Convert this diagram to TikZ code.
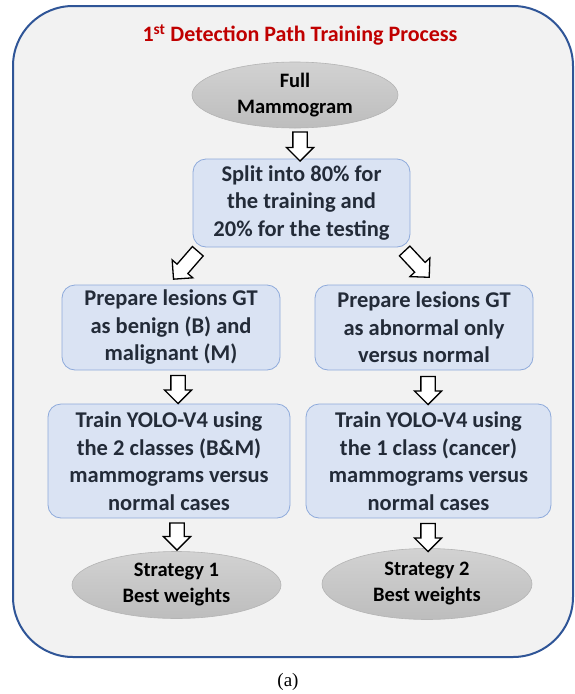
\documentclass[tikz,border=0pt]{standalone}
\usepackage{fontspec}
\setmainfont{Carlito}
\newfontfamily\capfont{Liberation Serif}
\usetikzlibrary{shapes.geometric,shapes.arrows,calc}
\definecolor{framecol}{HTML}{2F5597}
\definecolor{panelbg}{HTML}{F2F2F2}
\definecolor{titlered}{HTML}{C00000}
\definecolor{boxfill}{HTML}{DAE3F3}
\definecolor{boxline}{HTML}{8EAADB}
\definecolor{boxtext}{HTML}{232B38}
\definecolor{ovaltop}{HTML}{D2D2D2}
\definecolor{ovalbot}{HTML}{BDBDBD}
\definecolor{ovalline}{HTML}{B4B4B4}
\tikzset{
  stepbox/.style={draw=boxline, fill=boxfill, line width=0.8pt, rounded corners=13pt,
    text=boxtext, align=center, inner sep=0pt,
    font=\bfseries\fontsize{22.5}{27.5}\selectfont},
  oval/.style={ellipse, draw=ovalline, top color=ovaltop, bottom color=ovalbot,
    line width=0.6pt, inner sep=0pt,
    align=center, font=\bfseries\fontsize{20.5}{26}\selectfont},
  fatarrow/.style={single arrow, draw=black, fill=white, line width=1.3pt,
    minimum height=#1, inner sep=6.5pt, single arrow head extend=6.5pt,
    single arrow tip angle=90, anchor=center},
}
\begin{document}
\begin{tikzpicture}[x=1pt,y=-1pt]
\useasboundingbox (0,0) rectangle (575,694);
% outer panel
\draw[framecol, line width=2pt, fill=panelbg, rounded corners=60pt] (13,6) rectangle (573,657);
\node[text=titlered, font=\bfseries\fontsize{22}{26}\selectfont] (title) at (300,35)
  {1\textsuperscript{st} Detection Path Training Process};
% process nodes
\node[oval, minimum width=206pt, minimum height=66pt] (full) at (295,95) {Full\\Mammogram};
\node[stepbox, minimum width=217pt, minimum height=88pt] (split) at (301.5,203)
  {Split into 80\% for\\the training and\\20\% for the testing};
\node[stepbox, minimum width=218pt, minimum height=85pt] (prepL) at (171,327.5)
  {Prepare lesions GT\\as benign (B) and\\malignant (M)};
\node[stepbox, minimum width=218pt, minimum height=85pt] (prepR) at (424,327.5)
  {Prepare lesions GT\\as abnormal only\\versus normal};
\node[stepbox, minimum width=242pt, minimum height=114pt] (trainL) at (169,461)
  {Train YOLO-V4 using\\the 2 classes (B\&M)\\mammograms versus\\normal cases};
\node[stepbox, minimum width=245pt, minimum height=114pt] (trainR) at (428.5,461)
  {Train YOLO-V4 using\\the 1 class (cancer)\\mammograms versus\\normal cases};
\node[oval, minimum width=209pt, minimum height=67pt] (bestL) at (176.5,585)
  {Strategy 1\\Best weights};
\node[oval, minimum width=210pt, minimum height=71pt] (bestR) at (427,584)
  {Strategy 2\\Best weights};
% block arrows between the steps
\node[fatarrow=29pt, rotate=-90] (a1) at (300,143) {};
\node[fatarrow=37pt, rotate=229] (a2) at (188,262.5) {};
\node[fatarrow=36pt, rotate=-47] (a3) at (414.5,261.5) {};
\node[fatarrow=28pt, rotate=-90] (a4) at (178,386) {};
\node[fatarrow=28pt, rotate=-90] (a5) at (428,387) {};
\node[fatarrow=27pt, rotate=-90] (a6) at (177,533) {};
\node[fatarrow=28pt, rotate=-90] (a7) at (428,534) {};
% caption
\node[font=\capfont\fontsize{19}{22}\selectfont] (cap) at (288,682) {(a)};
\end{tikzpicture}
\end{document}
